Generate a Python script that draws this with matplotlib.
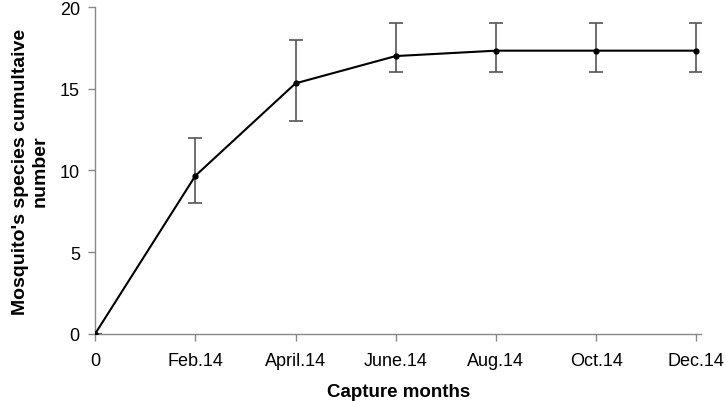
import matplotlib
matplotlib.use("Agg")
import matplotlib.pyplot as plt

months = ["0", "Feb.14", "April.14", "June.14", "Aug.14", "Oct.14", "Dec.14"]
cumulative = [0, 9.67, 15.33, 17, 17.33, 17.33, 17.33]
lower = [0, 8, 13, 16, 16, 16, 16]
upper = [0, 12, 18, 19, 19, 19, 19]

plt.rcParams['font.family'] = ['Liberation Sans', 'DejaVu Sans']

fig = plt.figure(figsize=(7.26, 4.02), dpi=100)
ax = fig.add_axes([0.131, 0.167, 0.835, 0.813])

x = list(range(len(months)))
yerr = [[c - l for c, l in zip(cumulative, lower)],
        [u - c for c, u in zip(cumulative, upper)]]

ax.errorbar(x, cumulative, yerr=yerr, fmt="none", ecolor="#555555",
            elinewidth=1.2, capsize=5, capthick=1.2, zorder=2)
ax.plot(x, cumulative, color="black", lw=1.5, marker="o", ms=3.5, zorder=3)

ax.set_xlim(0, 6.05)
ax.set_ylim(0, 20)
ax.set_xticks(x)
ax.set_xticklabels(months)
ax.set_yticks([0, 5, 10, 15, 20])

for s in ["top", "right"]:
    ax.spines[s].set_visible(False)
for s in ["left", "bottom"]:
    ax.spines[s].set_color("#888888")
    ax.spines[s].set_linewidth(1)
ax.tick_params(colors="#888888", labelcolor="black", labelsize=13, length=5, width=1, direction="out")
ax.tick_params(axis="x", pad=8)
ax.tick_params(axis="y", pad=6)

ax.set_xlabel("Capture months", fontsize=13.5, fontweight="bold", labelpad=10)
ax.set_ylabel("Mosquito's species cumultaive\nnumber", fontsize=14, fontweight="bold", labelpad=8)

fig.savefig("out.png", dpi=100)
